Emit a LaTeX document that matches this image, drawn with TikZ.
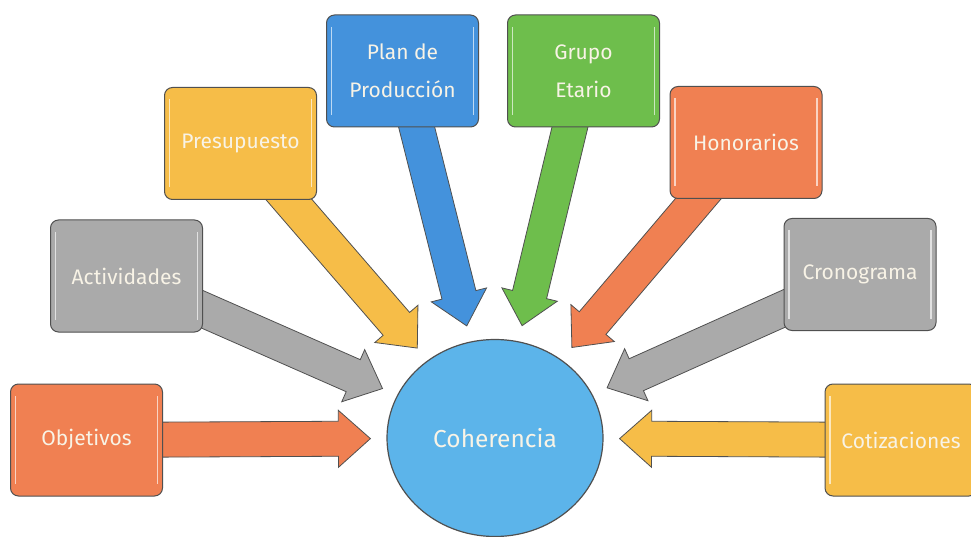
\documentclass[tikz,border=0pt]{standalone}
\usepackage{fontspec}
\setmainfont{Fira Sans}
\usetikzlibrary{calc}
\usetikzlibrary{shapes.geometric}
\usetikzlibrary{backgrounds}

\definecolor{cOrange}{RGB}{240,128,82}
\definecolor{cGray}{RGB}{170,170,170}
\definecolor{cYellow}{RGB}{246,189,72}
\definecolor{cBlue}{RGB}{68,146,220}
\definecolor{cGreen}{RGB}{110,190,76}
\definecolor{cCircle}{RGB}{92,180,234}
\definecolor{cEdge}{RGB}{80,80,80}
\definecolor{cText}{RGB}{248,243,230}

\tikzset{
  box/.style={draw=cEdge, line width=1pt, rounded corners=8pt, fill=#1,
    minimum width=152pt, minimum height=112pt, text=cText, align=center,
    font=\fontsize{21}{38}\selectfont,
    path picture={
      \draw[#1!35!white, line width=1.6pt]
        ([xshift=5pt,yshift=-12pt]path picture bounding box.north west) --
        ([xshift=5pt,yshift=12pt]path picture bounding box.south west);
      \draw[#1!35!white, line width=1.6pt]
        ([xshift=-5pt,yshift=-12pt]path picture bounding box.north east) --
        ([xshift=-5pt,yshift=12pt]path picture bounding box.south east);
    }},
  arrowline/.style={draw=cEdge, line width=0.8pt, line join=miter},
}

% block arrow from a box towards the circle
\newcommand{\blockarrow}[2]{%
  \path (#2.center) -- coordinate[pos=1] (edge) (coh);
  \path ($(edge)!16pt!(#2.center)$) coordinate (tip);
  \path ($(tip)!32pt!(#2.center)$) coordinate (base);
  \filldraw[arrowline, fill=#1]
    ($(#2.center)!17.5pt!90:(tip)$) -- ($(base)!17.5pt!90:(tip)$) --
    ($(base)!28.5pt!90:(tip)$) -- (tip) --
    ($(base)!28.5pt!-90:(tip)$) -- ($(base)!17.5pt!-90:(tip)$) --
    ($(#2.center)!17.5pt!-90:(tip)$) -- cycle;
}

\begin{document}
\begin{tikzpicture}[x=1pt, y=-1pt]
  \useasboundingbox (0,0) rectangle (971,537);

  \node[ellipse, draw=cEdge, line width=1.2pt, fill=cCircle, text=cText,
        minimum width=216pt, minimum height=197pt,
        font=\fontsize{24.5}{28}\selectfont] (coh) at (495,438) {Coherencia};

  \node[box=cOrange] (obj)  at (86.5,440)  {Objetivos};
  \node[box=cGray]   (act)  at (126.5,276) {Actividades};
  \node[box=cYellow] (pre)  at (240.5,143.5) {Presupuesto};
  \node[box=cBlue]   (plan) at (402.5,71)  {Plan de\\Producción};
  \node[box=cGreen]  (grp)  at (583.5,71)  {Grupo\\Etario};
  \node[box=cOrange] (hon)  at (746,142.5) {Honorarios};
  \node[box=cGray]   (cro)  at (860,274.5) {Cronograma};
  \node[box=cYellow] (cot)  at (901,440)   {Cotizaciones};

  \begin{pgfonlayer}{background}
    \blockarrow{cOrange}{obj}
    \blockarrow{cGray}{act}
    \blockarrow{cYellow}{pre}
    \blockarrow{cBlue}{plan}
    \blockarrow{cGreen}{grp}
    \blockarrow{cOrange}{hon}
    \blockarrow{cGray}{cro}
    \blockarrow{cYellow}{cot}
  \end{pgfonlayer}
\end{tikzpicture}
\end{document}
